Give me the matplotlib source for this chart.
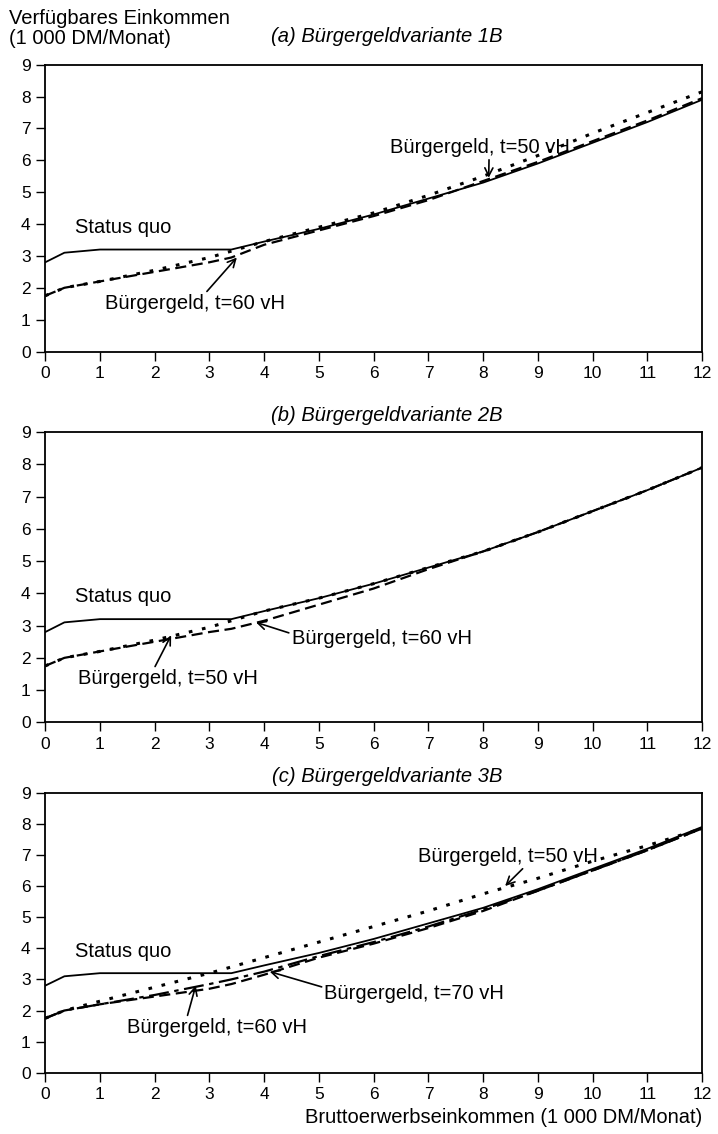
import numpy as np
import matplotlib
matplotlib.use("Agg")
import matplotlib.pyplot as plt

plt.rcParams['font.family'] = ['Liberation Sans', 'DejaVu Sans']

# Bruttoerwerbseinkommen (1000 DM/Monat)
x = [0, 0.35, 1, 2, 3, 3.4, 4, 5, 6, 7, 8, 9, 10, 11, 12]

# Status quo (gleich in allen Panels)
status_quo = [2.8, 3.1, 3.2, 3.2, 3.2, 3.2, 3.45, 3.85, 4.3, 4.8, 5.3, 5.9, 6.55, 7.2, 7.9]

# (a) Variante 1B
a_t50 = [1.75, 2.0, 2.2, 2.55, 2.95, 3.15, 3.45, 3.9, 4.35, 4.9, 5.5, 6.15, 6.85, 7.5, 8.15]
a_t60 = [1.75, 2.0, 2.2, 2.5, 2.8, 2.95, 3.35, 3.8, 4.25, 4.75, 5.35, 5.95, 6.6, 7.25, 7.95]

# (b) Variante 2B
b_t50 = [1.75, 2.0, 2.2, 2.55, 2.95, 3.15, 3.45, 3.85, 4.3, 4.8, 5.3, 5.9, 6.55, 7.2, 7.9]
b_t60 = [1.75, 2.0, 2.2, 2.5, 2.8, 2.9, 3.15, 3.65, 4.15, 4.75, 5.3, 5.9, 6.55, 7.2, 7.9]

# (c) Variante 3B
c_t50 = [1.75, 2.0, 2.3, 2.75, 3.2, 3.4, 3.7, 4.2, 4.7, 5.2, 5.75, 6.25, 6.8, 7.3, 7.85]
c_t60 = [1.75, 2.0, 2.2, 2.45, 2.7, 2.85, 3.15, 3.7, 4.15, 4.65, 5.2, 5.85, 6.5, 7.15, 7.85]
c_t70 = [1.75, 2.0, 2.2, 2.5, 2.85, 3.0, 3.25, 3.75, 4.2, 4.7, 5.25, 5.85, 6.5, 7.15, 7.85]

titles = ["(a) Bürgergeldvariante 1B", "(b) Bürgergeldvariante 2B", "(c) Bürgergeldvariante 3B"]
title_pads = [16, 8, 8]

fig = plt.figure(figsize=(7.18, 11.34), dpi=100)
left, width = 0.063, 0.915
bottoms = [0.690, 0.363, 0.054]
heights = [0.253, 0.256, 0.247]

dot = (0, (1.2, 3.2))
dash = (0, (5, 2.5))
longdash = (0, (9, 2.5, 2, 2.5))

fs = 14.5
tfs = 12.5
arrow = dict(arrowstyle="->", color="black", lw=1.2, shrinkA=0, shrinkB=0)

axes = []
for i in range(3):
    ax = fig.add_axes([left, bottoms[i], width, heights[i]])
    ax.plot(x, status_quo, color="black", lw=1.3)
    ax.set_xlim(0, 12)
    ax.set_ylim(0, 9)
    ax.set_xticks(range(13))
    ax.set_yticks(range(10))
    ax.tick_params(labelsize=tfs, length=6.5, width=1, direction="out", pad=4)
    for s in ax.spines.values():
        s.set_linewidth(1.3)
    ax.set_title(titles[i], style="italic", fontsize=fs, pad=title_pads[i], x=0.52)
    ax.text(0.55, 3.6, "Status quo", fontsize=fs, va="bottom")
    axes.append(ax)

ax_a, ax_b, ax_c = axes

ax_a.plot(x, a_t50, color="black", lw=2.2, linestyle=dot)
ax_a.plot(x, a_t60, color="black", lw=1.6, linestyle=dash)
ax_a.annotate("Bürgergeld, t=60 vH", xy=(3.5, 2.95), xytext=(1.1, 1.5),
              fontsize=fs, va="center", arrowprops=dict(arrow, relpos=(0.55, 1.0)))
ax_a.annotate("Bürgergeld, t=50 vH", xy=(8.1, 5.45), xytext=(6.3, 6.4),
              fontsize=fs, va="center", arrowprops=dict(arrow, relpos=(0.55, 0.0)))

ax_b.plot(x, b_t50, color="black", lw=2.2, linestyle=dot)
ax_b.plot(x, b_t60, color="black", lw=1.6, linestyle=dash)
ax_b.annotate("Bürgergeld, t=60 vH", xy=(3.85, 3.1), xytext=(4.5, 2.6),
              fontsize=fs, va="center", arrowprops=dict(arrow, relpos=(0.0, 0.75)))
ax_b.annotate("Bürgergeld, t=50 vH", xy=(2.3, 2.7), xytext=(0.6, 1.35),
              fontsize=fs, va="center", arrowprops=dict(arrow, relpos=(0.42, 1.0)))

ax_c.plot(x, c_t50, color="black", lw=2.2, linestyle=dot)
ax_c.plot(x, c_t60, color="black", lw=1.6, linestyle=dash)
ax_c.plot(x, c_t70, color="black", lw=1.6, linestyle=longdash)
ax_c.annotate("Bürgergeld, t=50 vH", xy=(8.4, 6.0), xytext=(6.8, 6.95),
              fontsize=fs, va="center", arrowprops=dict(arrow, relpos=(0.6, 0.0)))
ax_c.annotate("Bürgergeld, t=70 vH", xy=(4.1, 3.25), xytext=(5.1, 2.55),
              fontsize=fs, va="center", arrowprops=dict(arrow, relpos=(0.0, 0.8)))
ax_c.annotate("Bürgergeld, t=60 vH", xy=(2.75, 2.8), xytext=(1.5, 1.45),
              fontsize=fs, va="center", arrowprops=dict(arrow, relpos=(0.33, 1.0)))

fig.text(0.012, 0.975, "Verfügbares Einkommen\n(1 000 DM/Monat)", fontsize=fs,
         va="center", ha="left", linespacing=1.1)
ax_c.set_xlabel("Bruttoerwerbseinkommen (1 000 DM/Monat)", fontsize=fs,
                loc="right", labelpad=4)

fig.savefig("out.png", dpi=100)
